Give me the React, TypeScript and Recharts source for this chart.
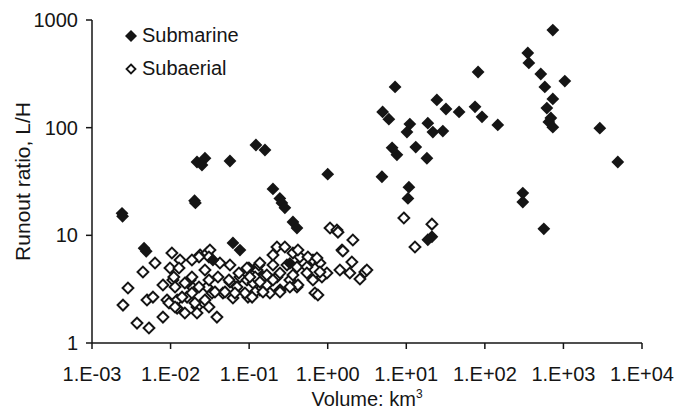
import { ScatterChart, Scatter, XAxis, YAxis, Legend, Label } from 'recharts';

// volume (km3) and runout ratio L/H
const submarineVolume = [
  0.00241, 0.00245, 0.0046, 0.0049, 0.0202, 0.0207, 0.0217, 0.0274, 0.0251, 0.057,
  0.0622, 0.0764, 0.0346, 0.122, 0.159, 0.201, 0.246, 0.261, 0.285, 0.361,
  0.406, 0.33, 1.0, 4.9, 7.2, 5.0, 6.0, 11.1, 10.2, 18.8,
  21.8, 29.2, 24.5, 32, 47, 75, 92, 146, 82, 6.6,
  7.6, 13.2, 18.3, 10.8, 10.5, 18.8, 21.2, 733, 352, 363,
  515, 580, 1042, 733, 615, 692, 652, 733, 2904, 4920,
  304, 304, 563,
];
const submarineRatio = [
  16, 15, 7.6, 7.1, 21, 20, 48, 52, 45, 49,
  8.5, 7.3, 5.9, 69, 62, 27, 22, 20, 18, 13.3,
  11.7, 5.5, 37, 35, 239, 140, 120, 108, 91, 110,
  91, 93, 181, 149, 140, 156, 126, 106, 329, 65,
  56, 66, 52, 28, 22, 9.1, 9.7, 807, 494, 399,
  315, 239, 271, 185, 152, 123, 113, 101, 99, 48,
  24.7, 20.4, 11.5,
];

const subaerialVolume = [
  0.00248, 0.00287, 0.00374, 0.00445, 0.00501, 0.00531, 0.00597, 0.00634, 0.008, 0.008,
  0.009, 0.00983, 0.0104, 0.0107, 0.0121, 0.0121, 0.0132, 0.0152, 0.0162, 0.0177,
  0.0193, 0.0217, 0.0217, 0.0237, 0.0291, 0.0317, 0.0274, 0.0291, 0.0337, 0.0389,
  0.0425, 0.0401, 0.057, 0.0464, 0.057, 0.0622, 0.07, 0.0764, 0.0938, 0.0966,
  0.112, 0.126, 0.137, 0.15, 0.168, 0.184, 0.226, 0.201, 0.226, 0.247,
  0.285, 0.303, 0.33, 0.361, 0.406, 0.406, 0.443, 0.543, 0.649, 0.796,
  0.688, 0.75, 0.844, 0.977, 1.07, 1.31, 0.011, 0.0114, 0.0187, 0.0152,
  0.023, 0.0308, 0.0553, 0.0741, 0.119, 0.014, 0.0187, 0.0367, 0.0492, 0.0885,
  0.119, 0.00955, 0.0114, 0.0204, 0.0308, 0.0308, 0.023, 0.0187, 0.0128, 0.0994,
  0.133, 0.0274, 0.0659, 2.09, 1.52, 2.03, 1.43, 1.91, 2.57, 2.97,
  0.418, 0.201, 0.56, 0.729, 0.0938, 0.137, 0.796, 0.102, 0.168, 0.247,
  0.361, 0.543, 0.137, 0.201, 0.418, 0.649, 0.15, 0.247, 0.33, 0.109,
  1.56, 3.15, 9.31, 21.2, 12.9, 1.35,
];
const subaerialRatio = [
  2.25, 3.24, 1.53, 4.56, 2.51, 1.38, 2.67, 5.53, 1.74, 3.46,
  2.51, 4.97, 6.85, 3.85, 2.51, 2.11, 5.9, 1.9, 2.67, 3.85,
  3.24, 2.16, 1.9, 6.57, 6.85, 7.31, 2.51, 3.31, 2.91, 1.74,
  5.53, 4.1, 5.3, 2.91, 3.69, 2.62, 3.31, 4.1, 3.85, 2.67,
  3.61, 4.76, 3.11, 4.1, 3.46, 2.91, 7.79, 5.3, 4.1, 3.11,
  7.79, 5.3, 3.85, 6.85, 5.08, 3.31, 6.29, 5.08, 5.9, 5.53,
  2.91, 2.79, 4.1, 4.47, 11.7, 11.2, 4.1, 3.31, 4.1, 3.61,
  3.31, 3.85, 3.85, 4.47, 4.1, 2.67, 2.91, 2.98, 2.98, 2.91,
  2.98, 2.35, 2.16, 2.35, 2.16, 6.29, 6.29, 5.9, 4.97, 4.97,
  5.3, 4.76, 2.91, 9.05, 7.31, 5.65, 4.76, 4.47, 3.93, 4.56,
  7.31, 6.57, 6.29, 6.16, 4.97, 5.53, 4.56, 4.1, 4.28, 4.47,
  4.28, 4.47, 3.69, 3.85, 3.46, 3.85, 2.98, 2.98, 3.31, 2.67,
  7.15, 4.76, 14.5, 12.7, 7.79, 10.7,
];

const xTicks = [1e-3, 1e-2, 1e-1, 1, 10, 100, 1000, 10000];
const yTicks = [1, 10, 100, 1000];

const submarine = submarineVolume.map((v, i) => ({ volume: v, ratio: submarineRatio[i] }));
const subaerial = subaerialVolume.map((v, i) => ({ volume: v, ratio: subaerialRatio[i] }));

const FONT = '"Liberation Sans", Arial, sans-serif';
const INK = '#151515';

function sciLabel(v: number) {
  const e = Math.round(Math.log10(v));
  const sign = e < 0 ? '-' : '+';
  return `1.E${sign}${String(Math.abs(e)).padStart(2, '0')}`;
}

function FilledDiamond(props: any) {
  const { cx, cy } = props;
  const r = 6.4;
  return (
    <polygon
      points={`${cx},${cy - r} ${cx + r},${cy} ${cx},${cy + r} ${cx - r},${cy}`}
      fill={INK}
    />
  );
}

function HollowDiamond(props: any) {
  const { cx, cy } = props;
  const r = 5.4;
  return (
    <polygon
      points={`${cx},${cy - r} ${cx + r},${cy} ${cx},${cy + r} ${cx - r},${cy}`}
      fill="#fff"
      stroke={INK}
      strokeWidth={2}
    />
  );
}

function LegendBox() {
  const items = [
    { name: 'Submarine', filled: true },
    { name: 'Subaerial', filled: false },
  ];
  return (
    <div style={{ fontFamily: FONT, fontSize: 20, color: INK }}>
      {items.map((it) => (
        <div key={it.name} style={{ display: 'flex', alignItems: 'center', height: 33 }}>
          <svg width={14} height={14} style={{ marginRight: 4 }}>
            {it.filled ? (
              <polygon points="7,1 13,7 7,13 1,7" fill={INK} />
            ) : (
              <polygon points="7,2.5 11.5,7 7,11.5 2.5,7" fill="#fff" stroke={INK} strokeWidth={1.8} />
            )}
          </svg>
          <span>{it.name}</span>
        </div>
      ))}
    </div>
  );
}

export default function App() {
  return (
    <div style={{ position: 'absolute', left: 0, top: 0, background: '#fff', fontFamily: FONT }}>
      <ScatterChart width={678} height={412} margin={{ top: 20, right: 36, bottom: 0, left: 0 }}>
        <XAxis
          type="number"
          dataKey="volume"
          scale="log"
          domain={[1e-3, 1e4]}
          ticks={xTicks}
          allowDataOverflow
          tickFormatter={sciLabel}
          height={69}
          stroke={INK}
          strokeWidth={1.5}
          tickSize={6}
          tickMargin={18}
          tick={{ fontSize: 20, fill: INK, fontFamily: FONT }}
        >
          <Label
            content={(p: any) => {
              const vb = p.viewBox;
              return (
                <text
                  x={vb.x + vb.width / 2}
                  y={vb.y + 63}
                  textAnchor="middle"
                  fontSize={20}
                  fill={INK}
                  fontFamily={FONT}
                >
                  Volume: km<tspan dy={-8} fontSize={12}>3</tspan>
                </text>
              );
            }}
          />
        </XAxis>
        <YAxis
          type="number"
          dataKey="ratio"
          scale="log"
          domain={[1, 1000]}
          ticks={yTicks}
          allowDataOverflow
          width={92}
          stroke={INK}
          strokeWidth={1.5}
          tickSize={6}
          tickMargin={8}
          tick={{ fontSize: 20, fill: INK, fontFamily: FONT }}
        >
          <Label
            content={(p: any) => {
              const vb = p.viewBox;
              const x = vb.x + 22;
              const y = vb.y + vb.height / 2;
              return (
                <text
                  x={x}
                  y={y}
                  transform={`rotate(-90 ${x} ${y})`}
                  textAnchor="middle"
                  dominantBaseline="central"
                  fontSize={21}
                  fill={INK}
                  fontFamily={FONT}
                >
                  Runout ratio, L/H
                </text>
              );
            }}
          />
        </YAxis>
        <Legend
          layout="vertical"
          align="center"
          verticalAlign="middle"
          content={() => <LegendBox />}
          wrapperStyle={{ left: 124, top: 19, width: 'auto' }}
        />
        <Scatter
          name="Subaerial"
          data={subaerial}
          shape={(p: any) => <HollowDiamond {...p} />}
          isAnimationActive={false}
        />
        <Scatter
          name="Submarine"
          data={submarine}
          shape={(p: any) => <FilledDiamond {...p} />}
          isAnimationActive={false}
        />
      </ScatterChart>
    </div>
  );
}
